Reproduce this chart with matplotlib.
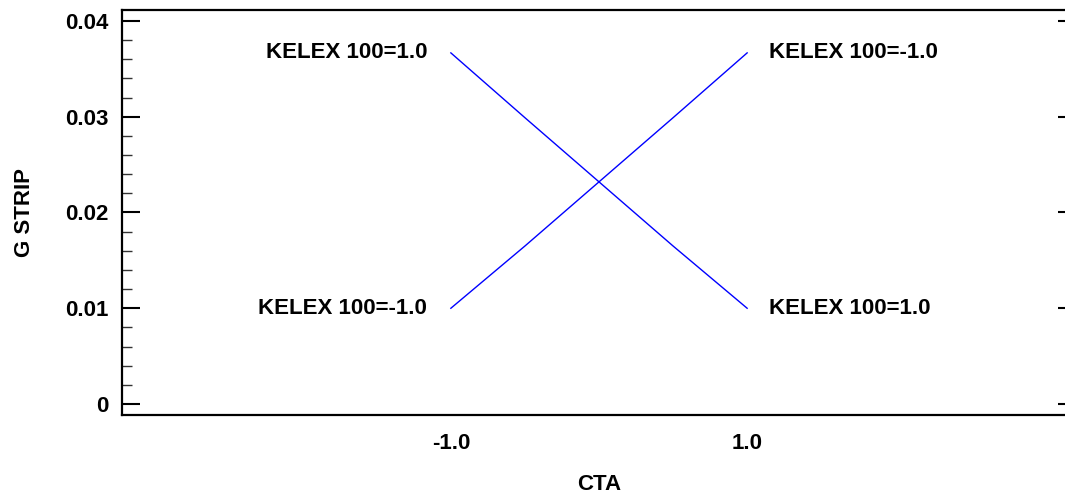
import matplotlib
matplotlib.use("Agg")
import matplotlib.pyplot as plt
from matplotlib.ticker import MultipleLocator, FixedLocator

plt.rcParams['font.family'] = ['Liberation Sans', 'DejaVu Sans']
plt.rcParams['font.weight'] = 'bold'

cta = [-1.0, -0.5, 0.0, 0.5, 1.0]
gstrip_kelex_pos = [0.03667, 0.0299, 0.0232, 0.0165, 0.0100]
gstrip_kelex_neg = [0.0100, 0.0165, 0.0232, 0.0299, 0.03667]
x_ticks = [-1.0, 1.0]
x_tick_labels = ["-1.0", "1.0"]
y_ticks = [0, 0.01, 0.02, 0.03, 0.04]
y_tick_labels = ["0", "0.01", "0.02", "0.03", "0.04"]
label_pos = "KELEX 100=1.0"
label_neg = "KELEX 100=-1.0"

W, H = 1065, 494
fig = plt.figure(figsize=(W / 100, H / 100), dpi=100)
left, right, top, bottom = 122, 1076, 10, 415
ax = fig.add_axes([left / W, 1 - bottom / H, (right - left) / W, (bottom - top) / H])

ax.plot(cta, gstrip_kelex_pos, color='#0000ff', lw=1.0)
ax.plot(cta, gstrip_kelex_neg, color='#0000ff', lw=1.0)

ax.set_xlim(-3.22, 3.22)
ax.set_ylim(-0.00115, 0.04115)

fs = 16
ax.text(-1.0 - 0.16, gstrip_kelex_pos[0], label_pos, ha='right', va='center', fontsize=fs, fontweight='bold')
ax.text(-1.0 - 0.16, gstrip_kelex_neg[0], label_neg, ha='right', va='center', fontsize=fs, fontweight='bold')
ax.text(1.0 + 0.15, gstrip_kelex_neg[-1], label_neg, ha='left', va='center', fontsize=fs, fontweight='bold')
ax.text(1.0 + 0.15, gstrip_kelex_pos[-1], label_pos, ha='left', va='center', fontsize=fs, fontweight='bold')

ax.xaxis.set_major_locator(FixedLocator(x_ticks))
ax.set_xticklabels(x_tick_labels, fontsize=fs, fontweight='bold')
ax.tick_params(axis='x', length=0, pad=13)

ax.yaxis.set_major_locator(FixedLocator(y_ticks))
ax.set_yticklabels(y_tick_labels, fontsize=fs, fontweight='bold')
ax.yaxis.set_minor_locator(MultipleLocator(0.002))
ax.tick_params(axis='y', which='major', direction='in', length=13, width=1.5, pad=9.5, right=True)
ax.tick_params(axis='y', which='minor', direction='in', length=7, width=1.0, color='#333333', right=False)

for s in ax.spines.values():
    s.set_linewidth(1.6)

ax.set_xlabel("CTA", fontsize=fs, fontweight='bold', labelpad=14)
ax.set_ylabel("G STRIP", fontsize=fs, fontweight='bold', labelpad=22)

fig.savefig("out.png", dpi=100)
